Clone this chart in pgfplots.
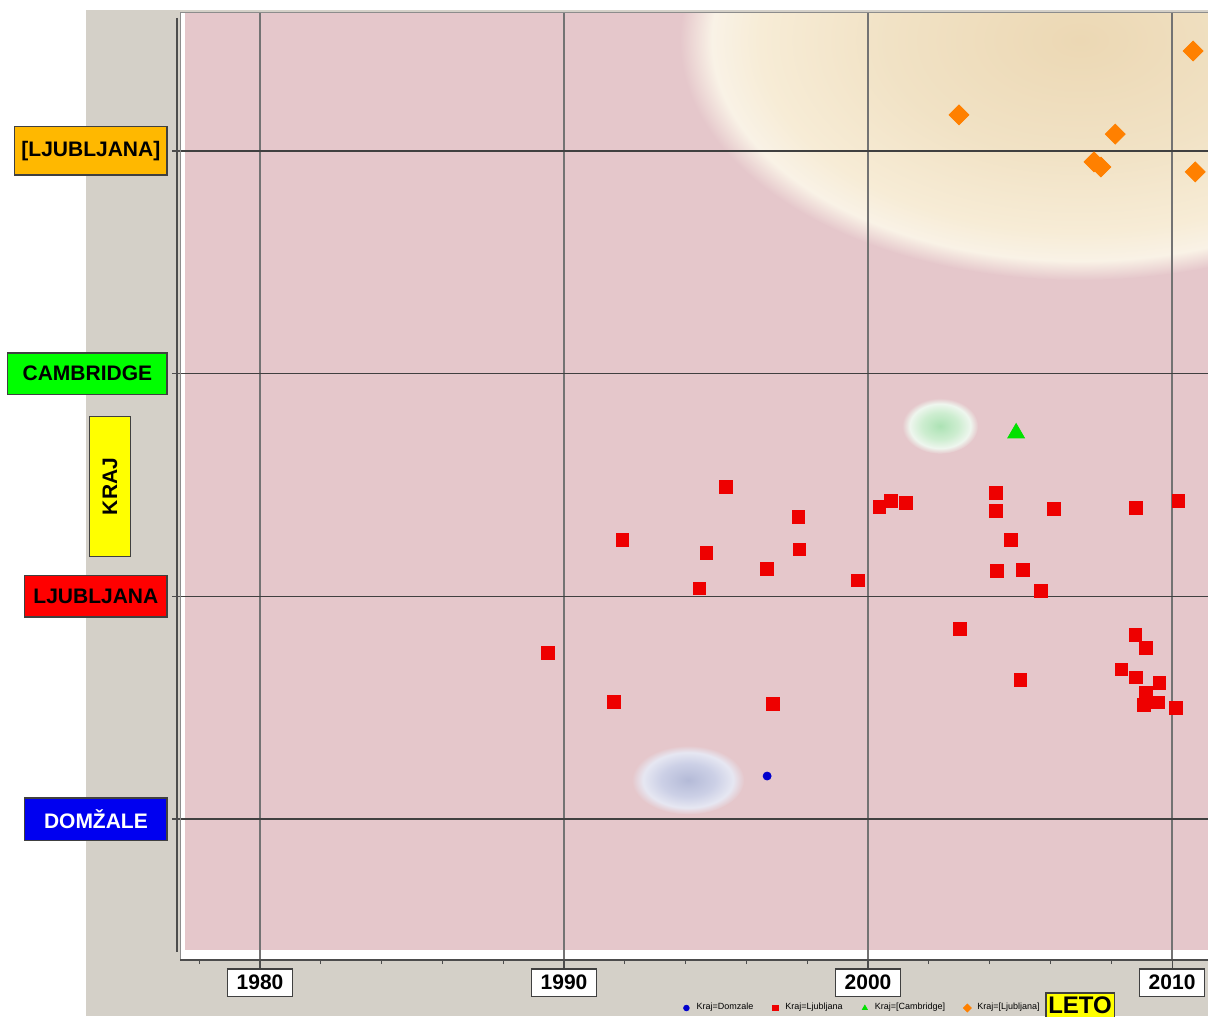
\documentclass[border=0pt]{standalone}
\usepackage{pgfplots}
\pgfplotsset{compat=1.18}
\usepackage{fontspec}
\setmainfont{Liberation Sans}

\definecolor{panel}{RGB}{212,208,200}
\definecolor{pinkbg}{RGB}{229,199,203}
\definecolor{beigeA}{RGB}{236,216,180}
\definecolor{beigeB}{RGB}{241,226,197}
\definecolor{beigeC}{RGB}{247,236,214}
\definecolor{creamR}{RGB}{249,242,230}
\definecolor{greenA}{RGB}{172,226,180}
\definecolor{greenB}{RGB}{205,237,208}
\definecolor{greenC}{RGB}{238,246,238}
\definecolor{blueA}{RGB}{180,186,215}
\definecolor{blueB}{RGB}{204,208,230}
\definecolor{blueC}{RGB}{230,231,242}
\definecolor{orangeL}{RGB}{255,184,0}
\definecolor{orangeM}{RGB}{255,128,0}
\definecolor{greenL}{RGB}{0,255,0}
\definecolor{greenM}{RGB}{0,225,0}
\definecolor{blueL}{RGB}{0,0,240}
\definecolor{blueM}{RGB}{0,0,205}
\definecolor{redL}{RGB}{255,0,0}
\definecolor{redM}{RGB}{238,0,0}
\definecolor{yellowL}{RGB}{255,255,0}

\pgfdeclareradialshading{beigeglow}{\pgfpoint{0bp}{0bp}}{color(0bp)=(beigeA); color(12bp)=(beigeB); color(20bp)=(beigeC); color(23bp)=(creamR); color(25bp)=(pinkbg); color(50bp)=(pinkbg)}
\pgfdeclareradialshading{greenglow}{\pgfpoint{0bp}{0bp}}{color(0bp)=(greenA); color(12bp)=(greenB); color(20bp)=(greenC); color(25bp)=(pinkbg); color(50bp)=(pinkbg)}
\pgfdeclareradialshading{blueglow}{\pgfpoint{0bp}{0bp}}{color(0bp)=(blueA); color(12bp)=(blueB); color(20bp)=(blueC); color(25bp)=(pinkbg); color(50bp)=(pinkbg)}

\newcommand{\tbox}[1]{{\setlength{\fboxsep}{0pt}\setlength{\fboxrule}{0.6pt}\fcolorbox{black!75}{white}{\parbox[c][13pt][c]{32pt}{\centering\bfseries\fontsize{10.5}{12}\selectfont #1}}}}
\newcommand{\cbox}[5]{{\setlength{\fboxsep}{0pt}\setlength{\fboxrule}{0.6pt}\fcolorbox{black!75}{#1}{\parbox[c][#5][c]{#4}{\centering\color{#2}\bfseries\fontsize{10.5}{12}\selectfont #3}}}}

\pgfplotstableread{
x y
2010.69 4.449
2002.99 4.162
2008.13 4.076
2007.43 3.951
2007.66 3.928
2010.76 3.906
}\orangedata

\pgfplotstableread{
x y
2004.87 2.733
}\greendata

\pgfplotstableread{
x y
1996.68 1.193
}\bluedata

\pgfplotstableread{
x y
1995.32 2.492
1991.92 2.252
1994.68 2.196
1994.45 2.036
1996.68 2.124
1997.71 2.358
1997.74 2.211
1999.67 2.072
2000.37 2.403
2000.74 2.427
2001.24 2.418
2004.21 2.463
2004.21 2.385
2006.12 2.391
2004.70 2.254
2004.24 2.115
2005.08 2.120
2005.68 2.025
2008.82 2.398
2010.21 2.430
2003.01 1.855
2008.79 1.826
2009.13 1.768
2008.33 1.672
2008.82 1.636
2005.01 1.624
2009.58 1.612
2009.13 1.565
2009.08 1.512
2009.54 1.524
2010.13 1.500
1989.47 1.746
1991.63 1.525
1996.88 1.516
}\reddata

\begin{document}
\begin{tikzpicture}
\begin{axis}[
  set layers, clip=false,
  at={(90pt,-480pt)}, anchor=south west,
  scale only axis, width=518pt, height=473.5pt,
  xmin=1977.368, xmax=2011.447, ymin=0.3668, ymax=4.6197,
  axis line style={draw=black!45, line width=0.5pt},
  xtick={1980,1990,2000,2010},
  minor xtick={1978,1982,1984,1986,1988,1992,1994,1996,1998,2002,2004,2006,2008},
  ytick={1,2,3,4},
  xtick pos=bottom, ytick pos=left, tick align=outside,
  major tick length=4pt, minor tick length=2pt,
  tick style={black!70, line width=0.6pt},
  grid=major,
  major x grid style={black!55, line width=0.7pt},
  major y grid style={black!75, line width=0.8pt},
  xticklabels={\tbox{1980},\tbox{1990},\tbox{2000},\tbox{2010}},
  yticklabels={{\cbox{blueL}{white}{DOMŽALE}{70.5pt}{20.5pt}},
                {\cbox{redL}{black}{LJUBLJANA}{70.5pt}{20pt}},
                {\cbox{greenL}{black}{CAMBRIDGE}{79pt}{20pt}},
                {\cbox{orangeL}{black}{[LJUBLJANA]}{75.5pt}{23.5pt}}},
  xticklabel style={inner sep=0pt},
  yticklabel style={inner sep=0pt, xshift=-2pt},
  ylabel={\cbox{yellowL}{black}{KRAJ}{69.5pt}{20pt}},
  ylabel style={at={(axis description cs:-0.0676,0.5)}, anchor=center, inner sep=0pt},
  xlabel={\cbox{yellowL}{black}{\fontsize{12}{13}\selectfont LETO}{33.5pt}{12pt}},
  xlabel style={at={(axis description cs:0.8687,0)}, anchor=north, yshift=-16pt, inner sep=0pt},
  legend columns=4,
  legend style={at={(axis description cs:0.834,-0.0507)}, anchor=east, draw=none, fill=none,
    font=\fontsize{4.5}{5}\selectfont, inner sep=0pt,
    /tikz/every even column/.append style={column sep=6pt}},
  legend image code/.code={\path (0,0) (0.2cm,0); \draw[#1,mark size=1.4pt] plot coordinates {(0.1cm,0cm)};},
]
\begin{pgfonlayer}{axis background}
\fill[white] (rel axis cs:-0.17375,-0.05913) rectangle (rel axis cs:0.99228,1.01373);
\fill[panel] (rel axis cs:-0.09073,-0.05913) rectangle (rel axis cs:0.99228,1.00317);
\fill[white] (rel axis cs:0,0) rectangle (rel axis cs:0.99228,1);
\begin{scope}
\clip (axis cs:1977.533,0.4117) rectangle (rel axis cs:0.99228,1);
\fill[pinkbg] (axis cs:1977.533,0.4117) rectangle (rel axis cs:1,1);
\shade[shading=beigeglow] (axis cs:2006.97,4.498) ellipse [x radius=13.16, y radius=1.078];
\shade[shading=greenglow] (axis cs:2002.37,2.765) ellipse [x radius=1.25, y radius=0.125];
\shade[shading=blueglow] (axis cs:1994.08,1.175) ellipse [x radius=1.85, y radius=0.155];
\end{scope}
\end{pgfonlayer}
\addplot[only marks, mark=*, mark size=2pt, mark options={draw=blueM, fill=blueM}] table[x=x,y=y] {\bluedata};
\addlegendentry{Kraj=Domzale}
\addplot[only marks, mark=square*, mark size=3.2pt, mark options={draw=redM, fill=redM}] table[x=x,y=y] {\reddata};
\addlegendentry{Kraj=Ljubljana}
\addplot[only marks, mark=triangle*, mark size=4.8pt, mark options={draw=greenM, fill=greenM}] table[x=x,y=y] {\greendata};
\addlegendentry{Kraj=[Cambridge]}
\addplot[only marks, mark=square*, mark size=3.5pt, mark options={draw=orangeM, fill=orangeM, rotate=45}] table[x=x,y=y] {\orangedata};
\addlegendentry{Kraj=[Ljubljana]}
\end{axis}
\draw[black!70, line width=0.6pt] (88.5pt,-9pt) -- (88.5pt,-476pt);
\draw[black!70, line width=0.7pt] (90pt,-480pt) -- (604pt,-480pt);
\pgfresetboundingbox
\useasboundingbox (0,0) rectangle (604pt,-508pt);
\end{tikzpicture}
\end{document}
